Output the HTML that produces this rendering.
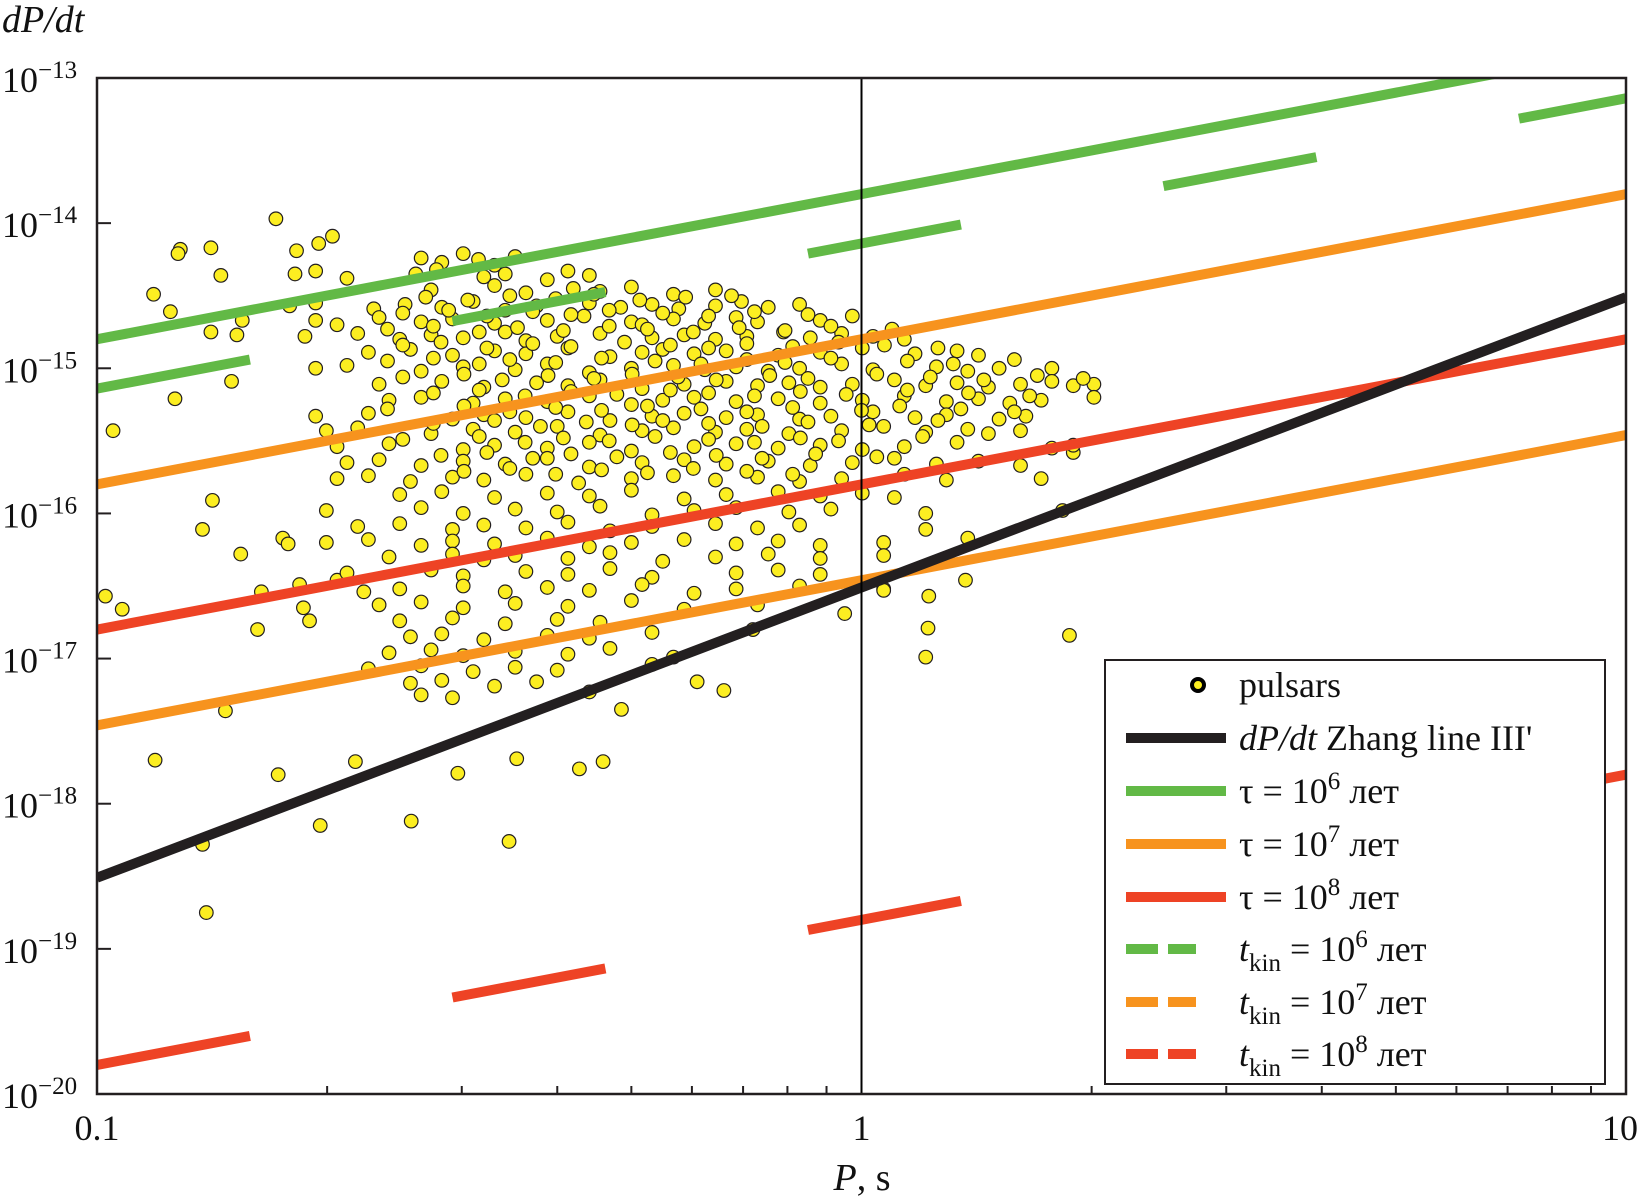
<!DOCTYPE html>
<html><head><meta charset="utf-8"><style>
html,body{margin:0;padding:0;background:#fff;}
svg{display:block;font-family:"Liberation Serif",serif;}
</style></head><body>
<svg id="chart" width="1650" height="1204" viewBox="0 0 1650 1204" xmlns="http://www.w3.org/2000/svg">
<defs><clipPath id="plotclip"><rect x="97" y="78" width="1529" height="1016"/></clipPath></defs>
<g id="points" clip-path="url(#plotclip)"></g>
<g id="marks" clip-path="url(#plotclip)"></g>
<g id="axes"></g>
</svg>
<script>
const xTicks = [0.1, 1, 10];
const xTickLabels = ["0.1", "1", "10"];
const yTickExps = [-13, -14, -15, -16, -17, -18, -19, -20];
const solidColors = ["#62b946", "#f7931e", "#ee4325", "#f7931e", "#231f20"];
const solidNames = ["tau-1e6-line", "tau-1e7-line", "tau-1e8-line", "tau-lower-orange-line", "zhang-line"];
const solidLogPdotAt01 = [-14.8, -15.8, -16.8, -17.46, -18.51];
const solidSlopes = [1, 1, 1, 1, 2];
const dashColors = ["#62b946", "#ee4325"];
const dashNames = ["tkin-1e6-line", "tkin-1e8-line"];
const dashLogPdotAt01 = [-15.14, -19.8];
const dashSlopes = [1, 1];
const pulsarLogP = [
-0.766,-0.692,-0.739,-0.710,-0.891,-0.894,-0.851,-0.926,-0.904,-0.838,-0.810,-0.817,-0.851,-0.824,-0.898,-0.979,-0.849,-0.862,-0.812,-0.757,-0.750,-0.735,-0.785,-0.790,-0.989,-0.967,-0.832,-0.924,-0.763,-0.708,-0.862,-0.857,-0.662,-0.589,-0.528,-0.451,-0.461,-0.369,-0.338,-0.314,-0.215,-0.180,-0.142,-0.022,0.087,0.084,0.272,0.029,0.136,0.088,-0.722,-0.730,-0.686,-0.651,0.249,0.304,0.277,0.235,
-0.576,-0.549,-0.521,-0.501,-0.480,-0.453,
-0.741,-0.714,-0.673,-0.583,-0.556,-0.494,-0.466,-0.411,-0.384,-0.356,
-0.563,-0.480,-0.439,-0.377,-0.342,-0.301,-0.246,-0.191,
-0.748,-0.714,-0.638,-0.597,-0.549,-0.508,-0.466,-0.425,-0.356,-0.315,-0.274,-0.239,-0.191,-0.157,-0.122,-0.081,
-0.714,-0.686,-0.631,-0.576,-0.535,-0.480,-0.411,-0.363,-0.301,-0.287,-0.246,-0.205,-0.164,-0.136,-0.054,-0.012,
-0.728,-0.659,-0.604,-0.563,-0.521,-0.466,-0.439,-0.398,-0.342,-0.274,-0.232,-0.191,-0.150,-0.102,-0.067,-0.026,0.015,0.056,
-0.645,-0.590,-0.535,-0.480,-0.439,-0.384,-0.329,-0.287,-0.260,-0.219,-0.177,-0.109,-0.054,0.001,0.070,0.125,0.153,
-0.714,-0.673,-0.576,-0.521,-0.453,-0.411,-0.356,-0.301,-0.246,-0.205,-0.164,-0.122,-0.081,-0.026,0.015,0.098,0.139,0.180,
-0.631,-0.549,-0.494,-0.425,-0.384,-0.342,-0.287,-0.232,-0.177,-0.136,-0.095,-0.054,-0.012,0.043,0.084,0.125,0.166,0.208,0.249,0.277,
-0.618,-0.576,-0.508,-0.466,-0.411,-0.356,-0.301,-0.260,-0.219,-0.164,-0.109,-0.054,0.001,0.056,0.111,0.153,0.194,0.235,0.304,
-0.714,-0.645,-0.535,-0.494,-0.439,-0.384,-0.329,-0.274,-0.232,-0.177,-0.136,-0.081,-0.040,0.015,0.070,0.111,0.180,0.215,
-0.700,-0.659,-0.563,-0.508,-0.453,-0.398,-0.342,-0.287,-0.246,-0.191,-0.150,-0.095,-0.026,0.029,0.084,0.139,0.166,0.208,
-0.686,-0.618,-0.521,-0.480,-0.411,-0.356,-0.301,-0.219,-0.164,-0.109,-0.054,0.001,0.056,0.125,0.249,0.277,
-0.673,-0.631,-0.576,-0.521,-0.466,-0.411,-0.356,-0.287,-0.232,-0.177,-0.122,-0.067,-0.012,0.043,0.098,0.153,0.208,
-0.686,-0.645,-0.590,-0.535,-0.494,-0.439,-0.370,-0.301,-0.246,-0.191,-0.136,-0.081,-0.026,0.056,0.111,
-0.604,-0.549,-0.480,-0.411,-0.356,-0.301,-0.232,-0.177,-0.109,-0.054,0.001,0.043,
-0.700,-0.576,-0.521,-0.453,-0.398,-0.342,-0.274,-0.219,-0.164,-0.095,-0.040,0.084,0.263,
-0.659,-0.604,-0.535,-0.494,-0.439,-0.384,-0.329,-0.274,-0.191,-0.136,-0.081,0.084,
-0.700,-0.645,-0.576,-0.535,-0.480,-0.411,-0.356,-0.301,-0.232,-0.164,-0.109,-0.054,0.029,0.139,
-0.618,-0.535,-0.494,-0.453,-0.384,-0.329,-0.260,-0.191,-0.122,-0.054,0.029,
-0.673,-0.563,-0.521,-0.439,-0.384,-0.329,-0.274,-0.164,-0.109,-0.054,
-0.604,-0.521,-0.466,-0.411,-0.356,-0.287,-0.219,-0.164,-0.081,0.029,
-0.631,-0.576,-0.521,-0.453,-0.384,-0.301,-0.232,-0.136,
-0.604,-0.535,-0.466,-0.398,-0.342,
-0.590,-0.549,-0.494,-0.411,-0.356,-0.274,
-0.618,-0.563,-0.521,-0.453,-0.384,-0.329,-0.246,
-0.645,-0.576,-0.508,-0.453,-0.398,-0.274,
-0.590,-0.549,-0.480,-0.425,
-0.576,-0.535,-0.356,
-0.570,-0.515,-0.460,-0.400,-0.350,-0.290,-0.230,-0.170,
-0.600,-0.540,-0.490,-0.430,-0.380,-0.330,-0.260,-0.200,-0.140,-0.070,
-0.620,-0.560,-0.500,-0.450,-0.390,-0.330,-0.280,-0.220,-0.160,-0.100,-0.040,0.040,
-0.600,-0.550,-0.490,-0.430,-0.380,-0.310,-0.250,-0.200,-0.150,-0.090,-0.030,0.030,0.100,
-0.620,-0.560,-0.500,-0.460,-0.400,-0.340,-0.270,-0.210,-0.150,-0.100,-0.040,0.060,0.120,0.200,
-0.600,-0.520,-0.470,-0.410,-0.350,-0.300,-0.240,-0.190,-0.120,-0.070,0.020,0.090,0.160,0.230,0.290,
-0.560,-0.500,-0.440,-0.380,-0.320,-0.250,-0.200,-0.140,-0.080,-0.020,0.060,0.140,0.220,
-0.620,-0.520,-0.460,-0.400,-0.340,-0.280,-0.210,-0.150,-0.090,0.000,0.050,0.130,0.200,
-0.560,-0.480,-0.420,-0.360,-0.300,-0.260,-0.200,-0.130,-0.070,0.010,0.100,
-0.600,-0.500,-0.440,-0.390,-0.330,-0.270,-0.200,-0.140,-0.080,-0.030,0.080,
-0.550,-0.490,-0.430,-0.380,-0.320,-0.250,-0.190,-0.130,-0.060,0.020,
-0.520,-0.460,-0.400,-0.340,-0.280,-0.220,-0.150,-0.090
];
const pulsarLogPdot = [
-13.97,-14.09,-14.19,-14.14,-14.18,-14.21,-14.17,-14.49,-14.61,-14.36,-14.67,-14.77,-14.75,-15.09,-15.21,-15.43,-15.91,-16.11,-16.28,-16.17,-16.21,-16.49,-16.54,-16.80,-16.57,-16.66,-17.36,-17.70,-17.80,-18.15,-18.28,-18.75,-17.71,-18.12,-17.79,-17.69,-18.26,-17.76,-17.71,-17.35,-17.16,-17.22,-16.80,-16.69,-16.79,-16.99,-16.84,-16.52,-16.46,-16.57,-16.74,-16.65,-16.46,-16.54,-15.00,-15.11,-15.58,-15.76,
-14.24,-14.27,-14.21,-14.25,-14.29,-14.23,
-14.35,-14.33,-14.38,-14.35,-14.32,-14.37,-14.35,-14.39,-14.33,-14.36,
-14.46,-14.43,-14.48,-14.45,-14.47,-14.44,-14.49,-14.46,
-14.57,-14.55,-14.59,-14.56,-14.58,-14.54,-14.60,-14.57,-14.55,-14.58,-14.56,-14.59,-14.57,-14.54,-14.58,-14.56,
-14.67,-14.70,-14.65,-14.68,-14.66,-14.69,-14.67,-14.64,-14.68,-14.70,-14.66,-14.69,-14.65,-14.68,-14.67,-14.64,
-14.78,-14.76,-14.80,-14.77,-14.79,-14.75,-14.81,-14.78,-14.76,-14.79,-14.77,-14.80,-14.78,-14.75,-14.79,-14.76,-14.78,-14.80,
-14.89,-14.87,-14.91,-14.88,-14.90,-14.86,-14.92,-14.89,-14.87,-14.90,-14.88,-14.91,-14.89,-14.86,-14.90,-14.88,-14.91,
-15.00,-14.98,-15.02,-14.99,-15.01,-14.97,-15.03,-15.00,-14.98,-15.01,-14.99,-15.02,-15.00,-14.97,-15.01,-14.99,-15.02,-15.00,
-15.11,-15.09,-15.13,-15.10,-15.12,-15.08,-15.14,-15.11,-15.09,-15.12,-15.10,-15.13,-15.11,-15.08,-15.12,-15.10,-15.13,-15.11,-15.09,-15.12,
-15.22,-15.20,-15.24,-15.21,-15.23,-15.19,-15.25,-15.22,-15.20,-15.23,-15.21,-15.24,-15.22,-15.19,-15.23,-15.21,-15.24,-15.22,-15.20,
-15.33,-15.31,-15.35,-15.32,-15.34,-15.30,-15.36,-15.33,-15.31,-15.34,-15.32,-15.35,-15.33,-15.30,-15.34,-15.32,-15.35,-15.33,
-15.43,-15.41,-15.45,-15.42,-15.44,-15.40,-15.46,-15.43,-15.41,-15.44,-15.42,-15.45,-15.43,-15.40,-15.44,-15.42,-15.45,-15.43,
-15.54,-15.52,-15.56,-15.53,-15.55,-15.51,-15.57,-15.54,-15.52,-15.55,-15.53,-15.56,-15.54,-15.51,-15.55,-15.53,
-15.65,-15.63,-15.67,-15.64,-15.66,-15.62,-15.68,-15.65,-15.63,-15.66,-15.64,-15.67,-15.65,-15.62,-15.66,-15.64,-15.67,
-15.76,-15.74,-15.78,-15.75,-15.77,-15.73,-15.79,-15.76,-15.74,-15.77,-15.75,-15.78,-15.76,-15.73,-15.77,
-15.87,-15.85,-15.89,-15.86,-15.88,-15.84,-15.90,-15.87,-15.85,-15.88,-15.86,-15.89,
-15.98,-15.96,-16.00,-15.97,-15.99,-15.95,-16.01,-15.98,-15.96,-15.99,-15.97,-16.00,-15.98,
-16.09,-16.07,-16.11,-16.08,-16.10,-16.06,-16.12,-16.09,-16.07,-16.10,-16.08,-16.11,
-16.20,-16.18,-16.22,-16.19,-16.21,-16.17,-16.23,-16.20,-16.18,-16.21,-16.19,-16.22,-16.20,-16.17,
-16.30,-16.28,-16.32,-16.29,-16.31,-16.27,-16.33,-16.30,-16.28,-16.31,-16.29,
-16.41,-16.39,-16.43,-16.40,-16.42,-16.38,-16.44,-16.41,-16.39,-16.42,
-16.52,-16.50,-16.54,-16.51,-16.53,-16.49,-16.55,-16.52,-16.50,-16.53,
-16.63,-16.61,-16.65,-16.62,-16.64,-16.60,-16.66,-16.63,
-16.74,-16.72,-16.76,-16.73,-16.75,
-16.85,-16.83,-16.87,-16.84,-16.86,-16.82,
-16.96,-16.94,-16.98,-16.95,-16.97,-16.93,-16.99,
-17.07,-17.05,-17.09,-17.06,-17.08,-17.04,
-17.17,-17.15,-17.19,-17.16,
-17.25,-17.27,-17.23,
-14.51,-14.53,-14.50,-14.52,-14.49,-14.53,-14.51,-14.50,
-14.62,-14.60,-14.64,-14.61,-14.63,-14.60,-14.62,-14.64,-14.61,-14.63,
-14.73,-14.71,-14.75,-14.72,-14.74,-14.71,-14.73,-14.75,-14.72,-14.74,-14.71,-14.73,
-14.84,-14.82,-14.86,-14.83,-14.85,-14.82,-14.84,-14.86,-14.83,-14.85,-14.82,-14.84,-14.86,
-14.95,-14.93,-14.97,-14.94,-14.96,-14.93,-14.95,-14.97,-14.94,-14.96,-14.93,-14.95,-14.97,-14.94,
-15.06,-15.04,-15.08,-15.05,-15.07,-15.04,-15.06,-15.08,-15.05,-15.07,-15.04,-15.06,-15.08,-15.05,-15.07,
-15.17,-15.15,-15.19,-15.16,-15.18,-15.15,-15.17,-15.19,-15.16,-15.18,-15.15,-15.17,-15.19,
-15.28,-15.26,-15.30,-15.27,-15.29,-15.26,-15.28,-15.30,-15.27,-15.29,-15.26,-15.28,-15.30,
-15.38,-15.36,-15.40,-15.37,-15.39,-15.36,-15.38,-15.40,-15.37,-15.39,-15.36,
-15.49,-15.47,-15.51,-15.48,-15.50,-15.47,-15.49,-15.51,-15.48,-15.50,-15.47,
-15.60,-15.58,-15.62,-15.59,-15.61,-15.58,-15.60,-15.62,-15.59,-15.61,
-15.71,-15.69,-15.73,-15.70,-15.72,-15.69,-15.71,-15.73
];

const NS = "http://www.w3.org/2000/svg";
const X0 = 97, X1 = 1626, Y0 = 78, Y1 = 1094;
const xs = lp => X0 + (lp + 1) / 2 * (X1 - X0);
const ys = lpd => Y0 + (-13 - lpd) / 7 * (Y1 - Y0);
const points = document.getElementById("points");
const marks = document.getElementById("marks");
const axes = document.getElementById("axes");
function mk(tag, attrs, parent) {
  const e = document.createElementNS(NS, tag);
  for (const k in attrs) e.setAttribute(k, attrs[k]);
  parent.appendChild(e);
  return e;
}

for (let i = 0; i < pulsarLogP.length; i++) {
  const c = mk("circle", {cx: xs(pulsarLogP[i]), cy: ys(pulsarLogPdot[i]), r: 6.8, fill: "#fcee21", stroke: "#231f20", "stroke-width": 1.2}, points);
  
  
}
for (let i = 0; i < solidColors.length; i++) {
  const l = mk("line", {x1: xs(-1), y1: ys(solidLogPdotAt01[i]), x2: xs(1), y2: ys(solidLogPdotAt01[i] + 2 * solidSlopes[i]), stroke: solidColors[i], "stroke-width": 10}, marks);
  
  
}
for (let i = 0; i < dashColors.length; i++) {
  for (let k = 0; k < 5; k++) {
    const a = -1 + k * 0.465, b = Math.min(a + 0.2, 1);
    const l = mk("line", {x1: xs(a), y1: ys(dashLogPdotAt01[i] + (a + 1) * dashSlopes[i]), x2: xs(b), y2: ys(dashLogPdotAt01[i] + (b + 1) * dashSlopes[i]), stroke: dashColors[i], "stroke-width": 10}, marks);
    
    
  }
}
const vl = mk("line", {x1: xs(0), y1: Y0, x2: xs(0), y2: Y1, stroke: "#000", "stroke-width": 2}, axes);


const fr = mk("rect", {x: X0, y: Y0, width: X1 - X0, height: Y1 - Y0, fill: "none", stroke: "#231f20", "stroke-width": 2.5}, axes);


for (let d = -1; d <= 0; d++) {
  for (let m = 2; m <= 9; m++) {
    const x = xs(d + Math.log10(m));
    const t = mk("line", {x1: x, y1: Y1, x2: x, y2: Y1 - 8, stroke: "#231f20", "stroke-width": 2}, axes);
    
    
  }
}
for (let i = 0; i < xTicks.length; i++) {
  const x = xs(Math.log10(xTicks[i]));
  const t = mk("text", {x: i === 2 ? x - 6 : x, y: 1140, "font-size": 36, "text-anchor": "middle", fill: "#111"}, axes);
  t.textContent = xTickLabels[i];
  
  
}
for (let i = 0; i < yTickExps.length; i++) {
  const y = ys(yTickExps[i]);
  const tk = mk("line", {x1: X0, y1: y, x2: X0 + 14, y2: y, stroke: "#231f20", "stroke-width": 2}, axes);
  
  
  const t = mk("text", {x: 2, y: y + 14, "font-size": 36, fill: "#111"}, axes);
  
  
  t.appendChild(document.createTextNode("10"));
  const s = mk("tspan", {dy: -14, "font-size": 25}, t);
  s.textContent = "\u2212" + Math.abs(yTickExps[i]);
}
const yt = mk("text", {x: 2, y: 32, "font-size": 38, "font-style": "italic", fill: "#111"}, axes);
yt.textContent = "dP/dt";


const xt = mk("text", {x: 862, y: 1190, "font-size": 38, "text-anchor": "middle", fill: "#111"}, axes);


const xti = mk("tspan", {"font-style": "italic"}, xt); xti.textContent = "P";
const xtr = mk("tspan", {}, xt); xtr.textContent = ", s";

const lg = mk("g", {}, axes);


const lb = mk("rect", {x: 1105, y: 660, width: 500, height: 424, fill: "#fff", stroke: "#231f20", "stroke-width": 2}, lg);


const rows = [685, 738, 791, 844, 897, 949, 1002, 1054];
const lc = ["#000", "#231f20", "#62b946", "#f7931e", "#ee4325", "#62b946", "#f7931e", "#ee4325"];
const lnames = ["legend-entry-pulsars", "legend-entry-zhang", "legend-entry-tau-1e6", "legend-entry-tau-1e7", "legend-entry-tau-1e8", "legend-entry-tkin-1e6", "legend-entry-tkin-1e7", "legend-entry-tkin-1e8"];
for (let i = 0; i < rows.length; i++) {
  const g = mk("g", {}, lg);
  
  
  const y = rows[i];
  if (i === 0) {
    mk("circle", {cx: 1198, cy: y, r: 6, fill: "#fcee21", stroke: "#000", "stroke-width": 4}, g);
  } else if (i < 5) {
    mk("line", {x1: 1126, y1: y, x2: 1226, y2: y, stroke: lc[i], "stroke-width": 10}, g);
  } else {
    mk("line", {x1: 1126, y1: y, x2: 1158, y2: y, stroke: lc[i], "stroke-width": 10}, g);
    mk("line", {x1: 1168, y1: y, x2: 1196, y2: y, stroke: lc[i], "stroke-width": 10}, g);
  }
  const t = mk("text", {x: 1239, y: y + 12, "font-size": 36, fill: "#111"}, g);
  if (i === 0) t.textContent = "pulsars";
  else if (i === 1) {
    const a = mk("tspan", {"font-style": "italic"}, t); a.textContent = "dP/dt";
    t.appendChild(document.createTextNode(" Zhang line III'"));
  } else if (i < 5) {
    t.appendChild(document.createTextNode("\u03c4 = 10"));
    const s = mk("tspan", {dy: -14, "font-size": 25}, t); s.textContent = String(i + 4);
    const r = mk("tspan", {dy: 14}, t); r.textContent = " лет";
  } else {
    const a = mk("tspan", {"font-style": "italic"}, t); a.textContent = "t";
    const b = mk("tspan", {dy: 10, "font-size": 25}, t); b.textContent = "kin";
    const c = mk("tspan", {dy: -10}, t); c.textContent = " = 10";
    const s = mk("tspan", {dy: -14, "font-size": 25}, t); s.textContent = String(i + 1);
    const r = mk("tspan", {dy: 14}, t); r.textContent = " лет";
  }
}
</script>
</body></html>
